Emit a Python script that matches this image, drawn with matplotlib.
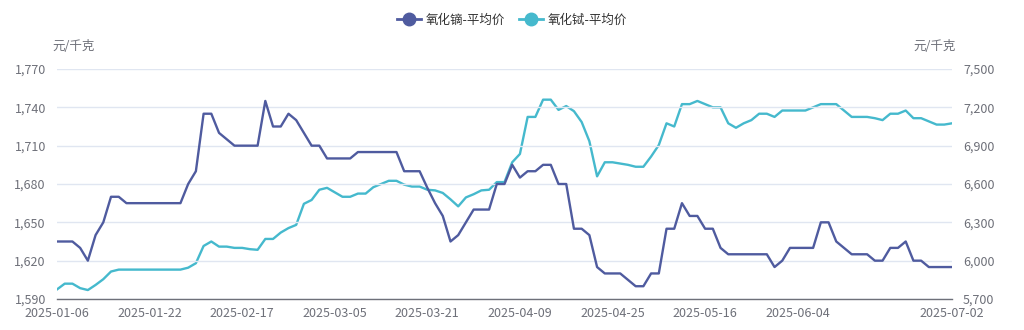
import matplotlib
matplotlib.use("Agg")
import matplotlib.pyplot as plt
import numpy as np
import pandas as pd
from matplotlib.lines import Line2D
from matplotlib.ticker import FuncFormatter

plt.rcParams['font.family'] = ['Noto Sans CJK SC', 'DejaVu Sans']

# trading days 2025-01-06 .. 2025-07-02 (Chinese market holidays removed)
holidays = ['2025-01-28', '2025-01-29', '2025-01-30', '2025-01-31', '2025-02-03', '2025-02-04',
            '2025-04-04', '2025-05-01', '2025-05-02', '2025-05-05', '2025-06-02']
dates = pd.bdate_range('2025-01-06', '2025-07-02', freq='C', holidays=holidays).strftime('%Y-%m-%d').tolist()

series_names = ['氧化镝-平均价', '氧化铽-平均价']
unit_label = '元/千克'

# 氧化镝 average price, left axis
dy_price = [1635, 1635, 1635, 1630, 1620, 1640, 1650, 1670, 1670, 1665,
            1665, 1665, 1665, 1665, 1665, 1665, 1665, 1680, 1690, 1735,
            1735, 1720, 1715, 1710, 1710, 1710, 1710, 1745, 1725, 1725,
            1735, 1730, 1720, 1710, 1710, 1700, 1700, 1700, 1700, 1705,
            1705, 1705, 1705, 1705, 1705, 1690, 1690, 1690, 1677, 1665,
            1655, 1635, 1640, 1650, 1660, 1660, 1660, 1680, 1680, 1695,
            1685, 1690, 1690, 1695, 1695, 1680, 1680, 1645, 1645, 1640,
            1615, 1610, 1610, 1610, 1605, 1600, 1600, 1610, 1610, 1645,
            1645, 1665, 1655, 1655, 1645, 1645, 1630, 1625, 1625, 1625,
            1625, 1625, 1625, 1615, 1620, 1630, 1630, 1630, 1630, 1650,
            1650, 1635, 1630, 1625, 1625, 1625, 1620, 1620, 1630, 1630,
            1635, 1620, 1620, 1615, 1615, 1615, 1615]

# 氧化铽 average price, right axis
tb_price = [5775, 5820, 5820, 5785, 5770, 5810, 5855, 5915, 5930, 5930,
            5930, 5930, 5930, 5930, 5930, 5930, 5930, 5945, 5980, 6115,
            6150, 6110, 6110, 6100, 6100, 6090, 6085, 6170, 6170, 6220,
            6255, 6280, 6445, 6475, 6555, 6570, 6535, 6500, 6500, 6525,
            6525, 6575, 6600, 6625, 6625, 6595, 6580, 6580, 6555, 6550,
            6530, 6480, 6425, 6495, 6520, 6550, 6555, 6615, 6615, 6770,
            6835, 7125, 7125, 7260, 7260, 7180, 7210, 7170, 7085, 6935,
            6660, 6770, 6770, 6760, 6750, 6735, 6735, 6815, 6905, 7075,
            7050, 7225, 7225, 7250, 7225, 7200, 7200, 7075, 7040, 7075,
            7100, 7150, 7150, 7125, 7175, 7175, 7175, 7175, 7200, 7225,
            7225, 7225, 7175, 7125, 7125, 7125, 7115, 7100, 7150, 7150,
            7175, 7115, 7115, 7090, 7065, 7065, 7075]

left_ticks = [1590, 1620, 1650, 1680, 1710, 1740, 1770]
right_ticks = [5700, 6000, 6300, 6600, 6900, 7200, 7500]
label_idx = [0, 12, 24, 36, 48, 60, 72, 84, 96, 116]

DARK = '#4f5b9f'
LIGHT = '#45b9cd'
TXT = '#6e7079'
GRID = '#e0e6f1'

fig = plt.figure(figsize=(10.24, 3.3), dpi=100)
ax = fig.add_axes((57 / 1024, 1 - 299 / 330, 895 / 1024, 230 / 330))
ax2 = ax.twinx()

x = np.arange(len(dates))
ax.plot(x, dy_price, color=DARK, lw=1.7, zorder=3)
ax2.plot(x, tb_price, color=LIGHT, lw=1.7, zorder=3)

ax.set_xlim(0, len(dates) - 1)
ax.set_ylim(left_ticks[0], left_ticks[-1])
ax2.set_ylim(right_ticks[0], right_ticks[-1])
ax.set_yticks(left_ticks)
ax2.set_yticks(right_ticks)
fmt = FuncFormatter(lambda v, p: f'{int(v):,}')
ax.yaxis.set_major_formatter(fmt)
ax2.yaxis.set_major_formatter(fmt)

ax.set_xticks(label_idx)
ax.set_xticklabels([dates[i] for i in label_idx])

for a in (ax, ax2):
    for s in a.spines.values():
        s.set_visible(False)
    a.tick_params(length=0, labelsize=9, colors=TXT)
ax.spines['bottom'].set_visible(True)
ax.spines['bottom'].set_color(TXT)
ax.spines['bottom'].set_linewidth(1)
ax.tick_params(axis='y', pad=8)
ax2.tick_params(axis='y', pad=8)
ax.tick_params(axis='x', pad=5.5)

ax.grid(axis='y', color=GRID, lw=1)
ax.set_axisbelow(True)
ax.patch.set_visible(False)
ax.set_zorder(ax2.get_zorder() + 1)

fig.text(52 / 1024, 1 - 47 / 330, unit_label, ha='left', va='center', fontsize=9, color=TXT)
fig.text(956 / 1024, 1 - 47 / 330, unit_label, ha='right', va='center', fontsize=9, color=TXT)

handles = [Line2D([0], [0], color=c, lw=2, marker='o', markersize=9) for c in (DARK, LIGHT)]
fig.legend(handles, series_names, loc='center', bbox_to_anchor=(0.5, 1 - 20 / 330), ncol=2,
           frameon=False, fontsize=9, handlelength=1.9, handletextpad=0.4, columnspacing=1.1,
           labelcolor='#333333')

fig.savefig('out.png', dpi=100)
